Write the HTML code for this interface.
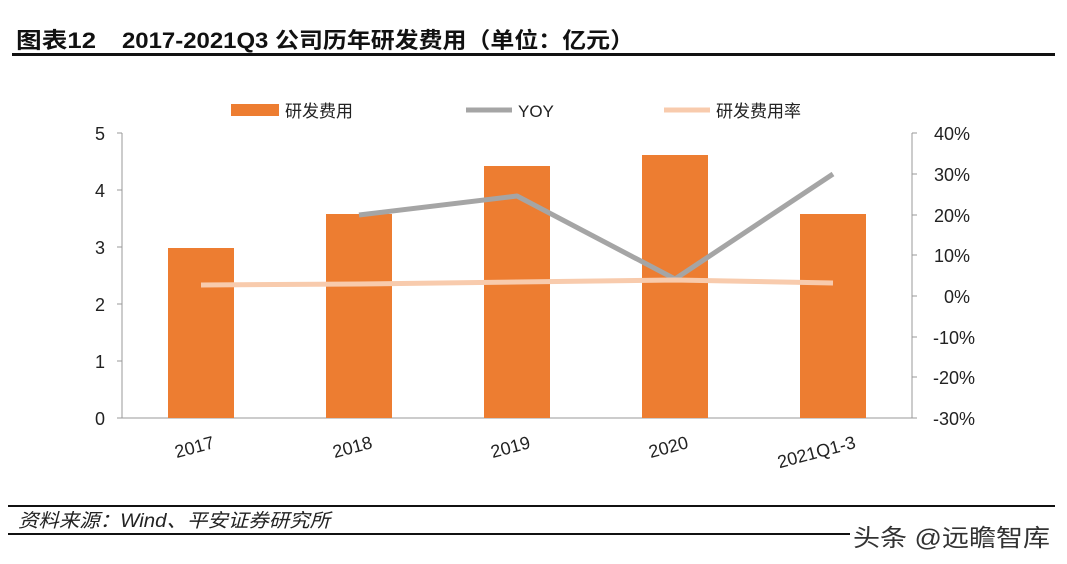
<!DOCTYPE html>
<html><head><meta charset="utf-8"><style>
body{margin:0;background:#fff;}
svg{display:block;font-family:"Liberation Sans","Noto Sans CJK SC",sans-serif;}
</style></head><body>
<svg width="1067" height="564" viewBox="0 0 1067 564">
<text x="16" y="48" font-size="22" font-weight="bold" fill="#111" textLength="80" lengthAdjust="spacingAndGlyphs">图表12</text>
<text x="122" y="48" font-size="22" font-weight="bold" fill="#111" textLength="512" lengthAdjust="spacingAndGlyphs">2017-2021Q3 公司历年研发费用（单位：亿元）</text>
<rect x="12" y="53" width="1043" height="3" fill="#111"/>
<rect x="231" y="104" width="48" height="12" fill="#ED7D31"/>
<text x="285" y="117" font-size="17" fill="#222">研发费用</text>
<line x1="466" y1="110" x2="512" y2="110" stroke="#A5A5A5" stroke-width="5"/>
<text x="518" y="117" font-size="17" fill="#222">YOY</text>
<line x1="664" y1="110" x2="710" y2="110" stroke="#F8CBAD" stroke-width="5"/>
<text x="716" y="117" font-size="17" fill="#222">研发费用率</text>
<line x1="122" y1="133" x2="122" y2="418" stroke="#999" stroke-width="1"/>
<line x1="122" y1="418" x2="912" y2="418" stroke="#999" stroke-width="1"/>
<line x1="912" y1="133" x2="912" y2="418" stroke="#999" stroke-width="1"/>
<g stroke="#999">
<line x1="117" y1="133" x2="122" y2="133"/><line x1="117" y1="190" x2="122" y2="190"/><line x1="117" y1="247" x2="122" y2="247"/><line x1="117" y1="304" x2="122" y2="304"/><line x1="117" y1="361" x2="122" y2="361"/><line x1="117" y1="418" x2="122" y2="418"/>
<line x1="912" y1="133" x2="917" y2="133"/><line x1="912" y1="174" x2="917" y2="174"/><line x1="912" y1="215" x2="917" y2="215"/><line x1="912" y1="255" x2="917" y2="255"/><line x1="912" y1="296" x2="917" y2="296"/><line x1="912" y1="337" x2="917" y2="337"/><line x1="912" y1="377" x2="917" y2="377"/><line x1="912" y1="418" x2="917" y2="418"/>
</g>
<g font-size="18" fill="#222" text-anchor="end">
<text x="105" y="140">5</text><text x="105" y="197">4</text><text x="105" y="254">3</text><text x="105" y="311">2</text><text x="105" y="368">1</text><text x="105" y="425">0</text>
</g>
<g font-size="18" fill="#222" text-anchor="end">
<text x="970" y="140">40%</text><text x="970" y="181">30%</text><text x="970" y="222">20%</text><text x="970" y="262">10%</text><text x="970" y="303">0%</text><text x="975" y="344">-10%</text><text x="975" y="384">-20%</text><text x="975" y="425">-30%</text>
</g>
<g fill="#ED7D31">
<rect x="168" y="248" width="66" height="170"/>
<rect x="326" y="214" width="66" height="204"/>
<rect x="484" y="166" width="66" height="252"/>
<rect x="642" y="155" width="66" height="263"/>
<rect x="800" y="214" width="66" height="204"/>
</g>
<polyline points="359,215 517,196 675,279 833,174" fill="none" stroke="#A5A5A5" stroke-width="5" stroke-linejoin="round"/>
<polyline points="201,285 359,284 517,282 675,280 833,283" fill="none" stroke="#F8CBAD" stroke-width="5"/>
<g font-size="18" fill="#222" text-anchor="middle">
<text transform="translate(196,453) rotate(-15)">2017</text>
<text transform="translate(354,453) rotate(-15)">2018</text>
<text transform="translate(512,453) rotate(-15)">2019</text>
<text transform="translate(670,453) rotate(-15)">2020</text>
<text transform="translate(818,458) rotate(-15)">2021Q1-3</text>
</g>
<rect x="8" y="505" width="1047" height="2" fill="#111"/>
<text x="18" y="527" font-size="19" font-style="italic" fill="#222" textLength="312" lengthAdjust="spacingAndGlyphs">资料来源：Wind、平安证券研究所</text>
<rect x="8" y="533" width="1047" height="2" fill="#111"/>
<rect x="850" y="522" width="205" height="26" fill="#fff"/>
<text x="853" y="546" font-size="24" fill="#333" textLength="197" lengthAdjust="spacingAndGlyphs">头条 @远瞻智库</text>
</svg>
</body></html>
